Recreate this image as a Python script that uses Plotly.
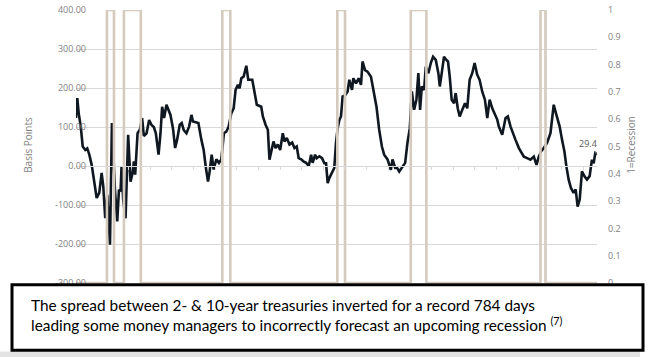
import plotly.graph_objects as go

# ---- data ----
dates = [1977.14, 1977.26, 1977.39, 1977.58, 1977.76, 1978.00, 1978.18, 1978.37, 1978.59, 1978.80,
         1979.05, 1979.29, 1979.51, 1979.66, 1979.84, 1980.03, 1980.28, 1980.46, 1980.74, 1980.95,
         1981.11, 1981.26, 1981.35, 1981.50, 1981.72, 1981.96, 1982.18, 1982.37, 1982.49, 1982.61,
         1982.74, 1982.83, 1983.04, 1983.25, 1983.41, 1983.66, 1983.90, 1984.12, 1984.33, 1984.52,
         1984.77, 1984.95, 1985.10, 1985.28, 1985.50, 1985.65, 1985.87, 1986.11, 1986.30, 1986.48,
         1986.73, 1986.91, 1987.10, 1987.35, 1987.59, 1987.81, 1987.95, 1988.20, 1988.45, 1988.73,
         1988.94, 1989.13, 1989.34, 1989.49, 1989.68, 1989.86, 1990.11, 1990.35, 1990.57, 1990.81,
         1991.03, 1991.25, 1991.49, 1991.71, 1991.89, 1992.10, 1992.26, 1992.42, 1992.63, 1992.88,
         1993.06, 1993.43, 1993.64, 1993.85, 1994.26, 1994.41, 1994.66, 1994.87, 1995.02, 1995.18,
         1995.39, 1995.58, 1995.79, 1996.01, 1996.25, 1996.41, 1996.62, 1996.87, 1997.12, 1997.33,
         1997.54, 1997.72, 1997.95, 1998.16, 1998.41, 1998.65, 1998.87, 1999.01, 1999.24, 1999.38,
         1999.63, 1999.88, 2000.09, 2000.25, 2000.40, 2000.55, 2000.71, 2000.86, 2001.01, 2001.17,
         2001.32, 2001.48, 2001.63, 2001.78, 2002.03, 2002.24, 2002.40, 2002.65, 2002.77, 2003.02,
         2003.26, 2003.48, 2003.62, 2003.85, 2004.08, 2004.40, 2004.70, 2004.91, 2005.16, 2005.41,
         2005.62, 2005.93, 2006.24, 2006.39, 2006.64, 2006.82, 2007.01, 2007.31, 2007.56, 2007.77,
         2007.99, 2008.18, 2008.39, 2008.60, 2008.78, 2008.94, 2009.10, 2009.31, 2009.47, 2009.71,
         2009.93, 2010.14, 2010.39, 2010.63, 2010.76, 2010.94, 2011.15, 2011.37, 2011.52, 2011.68,
         2011.86, 2012.08, 2012.23, 2012.42, 2012.60, 2012.84, 2013.09, 2013.30, 2013.52, 2013.76,
         2013.98, 2014.22, 2014.44, 2014.68, 2014.93, 2015.15, 2015.37, 2015.61, 2015.85, 2016.07,
         2016.22, 2016.53, 2016.84, 2017.05, 2017.30, 2017.54, 2017.76, 2018.07, 2018.28, 2018.53,
         2018.83, 2019.14, 2019.45, 2019.70, 2019.91, 2020.12, 2020.37, 2020.67, 2020.99, 2021.29,
         2021.50, 2021.66, 2021.84, 2022.06, 2022.28, 2022.46, 2022.67, 2022.89, 2023.13, 2023.32,
         2023.50, 2023.69, 2023.90, 2024.12, 2024.36, 2024.61, 2024.82, 2024.98, 2025.13, 2025.29]

spread_bp = [123, 174, 135, 101, 50, 41, 45, 29, 3, -31,
             -82, -69, -18, -52, -134, -74, -202, 110, -61, -142,
             -61, -65, -1, -87, -134, 80, -40, -18, 12, -22,
             50, 84, 93, 123, 77, 84, 118, 105, 100, 84,
             29, 84, 152, 123, 157, 146, 131, 95, 46, 67,
             106, 110, 92, 84, 101, 131, 114, 112, 110, 67,
             41, -2, -40, -14, 29, -9, 17, 8, 17, 84,
             88, 101, 135, 148, 195, 208, 199, 225, 229, 257,
             221, 221, 187, 157, 152, 127, 106, 93, 16, 41,
             63, 46, 55, 41, 84, 63, 72, 55, 60, 46,
             50, 20, 17, 12, 8, 0, 29, 8, 29, 20,
             25, 20, 7, 7, -44, -31, -22, -14, -5, 59,
             97, 118, 127, 178, 182, 191, 221, 195, 225, 212,
             225, 208, 268, 246, 242, 229, 178, 152, 93, 50,
             29, 17, -10, 17, -5, -5, -14, 0, 8, 59,
             97, 191, 144, 170, 238, 144, 204, 195, 255, 238,
             264, 280, 272, 238, 204, 238, 280, 272, 268, 229,
             170, 161, 187, 148, 127, 144, 161, 148, 221, 238,
             264, 234, 221, 191, 170, 123, 170, 148, 135, 119,
             101, 80, 123, 127, 101, 80, 67, 46, 37, 24,
             20, 16, 24, 3, 24, 37, 46, 59, 84, 157,
             135, 119, 101, 67, 37, -1, -35, -57, -69, -60,
             -104, -86, -14, -26, -35, -26, 16, 7, 33, 29.4]

recession_start = [1980.00, 1981.57, 1990.66, 2001.29, 2008.08, 2020.07]
recession_end = [1980.65, 1983.13, 1991.40, 2002.00, 2009.52, 2020.53]

left_tick_values = [400, 300, 200, 100, 0, -100, -200, -300]
left_tick_labels = ["400.00", "300.00", "200.00", "100.00", "0.00", "-100.00", "-200.00", "-300.00"]
right_tick_values = [0, 0.1, 0.2, 0.3, 0.4, 0.5, 0.6, 0.7, 0.8, 0.9, 1]
right_tick_labels = ["0", "0.1", "0.2", "0.3", "0.4", "0.5", "0.6", "0.7", "0.8", "0.9", "1"]

left_axis_title = "Basis Points"
right_axis_title = "1=Recession"
last_label = "29.4"
caption_line1 = "The spread between 2- & 10-year treasuries inverted for a record 784 days"
caption_line2 = "leading some money managers to incorrectly forecast an upcoming recession <sup>(7)</sup>"

# ---- recession indicator as a 0/1 step series ----
rec_x = [dates[0]]
rec_y = [0]
for s, e in zip(recession_start, recession_end):
    rec_x += [s, s, e, e]
    rec_y += [0, 1, 1, 0]
rec_x.append(dates[-1])
rec_y.append(0)

# ---- layout geometry (pixel positions in the 652x357 picture) ----
W, H = 652, 357
PLOT_L, PLOT_R, PLOT_T, PLOT_B = 76, 597, 10, 283.3
L, R, T, B = PLOT_L, W - PLOT_R, PLOT_T, H - PLOT_B
PW, PH = PLOT_R - PLOT_L, PLOT_B - PLOT_T


def px(x):
    return (x - PLOT_L) / PW


def py(y):
    return (PLOT_B - y) / PH


GRID = "#d9d9d9"
TICKC = "#7f7f7f"
FONT = "Open Sans, Liberation Sans, sans-serif"

fig = go.Figure()
fig.add_trace(go.Scatter(x=dates, y=spread_bp, mode="lines",
                         line=dict(color="#0f1720", width=2.6),
                         hoverinfo="skip", showlegend=False))
fig.add_trace(go.Scatter(x=rec_x, y=rec_y, mode="lines", yaxis="y2",
                         line=dict(color="#d4cabe", width=2.6),
                         hoverinfo="skip", showlegend=False))

fig.update_layout(
    width=W, height=H,
    margin=dict(l=L, r=R, t=T, b=B, pad=0, autoexpand=False),
    paper_bgcolor="white", plot_bgcolor="white",
    font=dict(family=FONT, size=9, color=TICKC),
    xaxis=dict(range=[dates[0], dates[-1]], showgrid=False, zeroline=False,
               showline=True, linecolor=GRID, linewidth=1,
               anchor="free", position=3 / 7,
               ticks="outside", ticklen=3, tickcolor=GRID, tick0=1978, dtick=2,
               showticklabels=False),
    yaxis=dict(range=[-300, 400], tickvals=left_tick_values, ticktext=left_tick_labels,
               anchor="free", position=px(86),
               showgrid=True, gridcolor=GRID, gridwidth=1, zeroline=False,
               ticks="", ticklabelstandoff=0, ticklabeloverflow="allow",
               tickfont=dict(size=9, color=TICKC), automargin=False),
    yaxis2=dict(range=[0, 1], overlaying="y", side="right",
                tickvals=right_tick_values, ticktext=right_tick_labels,
                showgrid=False, zeroline=False,
                ticks="", ticklabelstandoff=10, ticklabeloverflow="allow",
                tickfont=dict(size=9, color=TICKC), automargin=False),
)

# axis titles
fig.add_annotation(xref="paper", yref="paper", x=px(28), y=py(145), text=left_axis_title,
                   textangle=-90, showarrow=False, xanchor="center", yanchor="middle",
                   font=dict(size=10, color=TICKC, family=FONT))
fig.add_annotation(xref="paper", yref="paper", x=px(631), y=py(145), text=right_axis_title,
                   textangle=-90, showarrow=False, xanchor="center", yanchor="middle",
                   font=dict(size=10, color=TICKC, family=FONT))

# label for the last value
fig.add_annotation(x=dates[-1], y=spread_bp[-1], xref="x", yref="y",
                   text=last_label, showarrow=True, arrowhead=0, arrowwidth=0.8,
                   arrowcolor="#8c8c8c", ax=-9, ay=-11,
                   font=dict(size=9, color="#595959", family=FONT))

# bottom grey strip and caption box
fig.add_shape(type="rect", xref="paper", yref="paper",
              x0=px(0), x1=px(640), y0=py(352), y1=py(358),
              fillcolor="#e3e3e3", line=dict(width=0), layer="above")
fig.add_shape(type="rect", xref="paper", yref="paper",
              x0=px(12), x1=px(643), y0=py(285), y1=py(350.5),
              fillcolor="white", line=dict(color="black", width=3), layer="above")
fig.add_annotation(xref="paper", yref="paper", x=px(29), y=py(315.5),
                   xanchor="left", yanchor="middle", align="left", showarrow=False,
                   text=caption_line1 + "<br>" + caption_line2,
                   font=dict(family="Lato, Open Sans, sans-serif", size=15.4, color="black"))

# remove the browser's default page margin so the figure fills the window
fig.write_html("out.html", config={"displayModeBar": False},
               post_script="document.body.style.margin='0px';")
